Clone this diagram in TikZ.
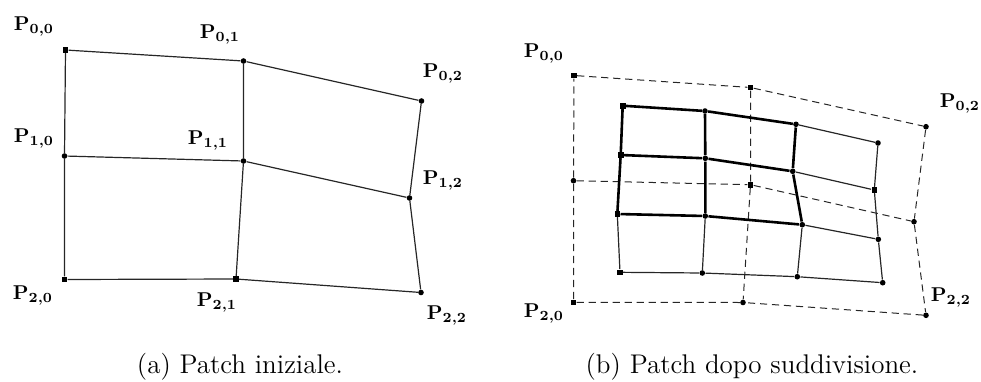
\documentclass[tikz,border=0pt]{standalone}
\usepackage{amsmath,amssymb}
\usepackage{tikz}
\usetikzlibrary{positioning}
\begin{document}
\begin{tikzpicture}[x=0.5pt,y=-0.5pt,
  pt/.style={circle,fill=black,inner sep=0pt,minimum size=2.8pt},
  sq/.style={rectangle,fill=black,inner sep=0pt,minimum size=2.8pt},
  lbl/.style={inner sep=0pt,font=\fontsize{10}{12}\selectfont\boldmath},
  capt/.style={inner sep=0pt,font=\fontsize{13.5}{16}\selectfont},
  thin line/.style={line width=0.6pt,black!85},
  dash line/.style={line width=0.5pt,black!85,dash pattern=on 3.6pt off 2.4pt},
  thick line/.style={line width=1.3pt,black}]
\useasboundingbox (0,0) rectangle (981,381);
% control net, initial patch
\node[sq] (a00) at (65.5,50) {};
\node[pt] (a01) at (243.5,61) {};
\node[pt] (a02) at (421.5,101) {};
\node[pt] (a10) at (64.5,156) {};
\node[pt] (a11) at (243.5,161) {};
\node[pt] (a12) at (409.5,198) {};
\node[sq] (a20) at (64.5,279.5) {};
\node[sq] (a21) at (236,279) {};
\node[pt] (a22) at (421,292.5) {};
\draw[thin line] (a00) -- (a01) -- (a02) -- (a12) -- (a22) -- (a21) -- (a20) -- (a10) -- (a00);
\draw[thin line] (a01) -- (a11) -- (a21);
\draw[thin line] (a10) -- (a11) -- (a12);
\node[lbl] (la00) at (34,26) {$\mathbf{P}_{0,0}$};
\node[lbl] (la01) at (220,34) {$\mathbf{P}_{0,1}$};
\node[lbl] (la02) at (443,73) {$\mathbf{P}_{0,2}$};
\node[lbl] (la10) at (34,138) {$\mathbf{P}_{1,0}$};
\node[lbl] (la11) at (208,140) {$\mathbf{P}_{1,1}$};
\node[lbl] (la12) at (443,180) {$\mathbf{P}_{1,2}$};
\node[lbl] (la20) at (33,295) {$\mathbf{P}_{2,0}$};
\node[lbl] (la21) at (217,302) {$\mathbf{P}_{2,1}$};
\node[lbl] (la22) at (447,315) {$\mathbf{P}_{2,2}$};
\node[capt] (capa) at (240,367) {(a) Patch iniziale.};
% control net, subdivided patch
\node[sq] (b00) at (574,75.5) {};
\node[sq] (b01) at (750.5,87.5) {};
\node[pt] (b02) at (926,126.7) {};
\node[pt] (b10) at (573.5,180.7) {};
\node[sq] (b11) at (750.5,184.7) {};
\node[pt] (b12) at (914,221.7) {};
\node[sq] (b20) at (573.5,302.3) {};
\node[pt] (b21) at (743,302.5) {};
\node[pt] (b22) at (926,315.3) {};
\draw[dash line] (b00) -- (b01) -- (b02) -- (b12) -- (b22) -- (b21) -- (b20) -- (b10) -- (b00);
\draw[dash line] (b01) -- (b11) -- (b21);
\draw[dash line] (b10) -- (b11) -- (b12);
% refined grid
\node[sq] (c00) at (622.7,105.7) {};
\node[pt] (c01) at (705,111) {};
\node[pt] (c02) at (796,124.3) {};
\node[pt] (c03) at (878,143) {};
\node[sq] (c10) at (620.7,155) {};
\node[pt] (c11) at (705.3,158.3) {};
\node[pt] (c12) at (792.7,171.3) {};
\node[sq] (c13) at (874.3,190) {};
\node[sq] (c20) at (617.3,214) {};
\node[pt] (c21) at (705.3,216) {};
\node[pt] (c22) at (802.3,224.7) {};
\node[pt] (c23) at (878.3,239.3) {};
\node[sq] (c30) at (620,272.3) {};
\node[pt] (c31) at (702.3,273) {};
\node[pt] (c32) at (797.3,276.7) {};
\node[pt] (c33) at (882.7,282.7) {};
\draw[thin line] (c02) -- (c03) -- (c13) -- (c23) -- (c33) -- (c32) -- (c31) -- (c30) -- (c20);
\draw[thin line] (c12) -- (c13);
\draw[thin line] (c22) -- (c23);
\draw[thin line] (c21) -- (c31);
\draw[thin line] (c22) -- (c32);
\draw[thick line] (c00) -- (c01) -- (c02) -- (c12) -- (c22) -- (c21) -- (c20) -- (c10) -- (c00);
\draw[thick line] (c01) -- (c11) -- (c21);
\draw[thick line] (c10) -- (c11) -- (c12);
\node[lbl] (lb00) at (544,53) {$\mathbf{P}_{0,0}$};
\node[lbl] (lb02) at (960,103) {$\mathbf{P}_{0,2}$};
\node[lbl] (lb20) at (544,313) {$\mathbf{P}_{2,0}$};
\node[lbl] (lb22) at (951,297) {$\mathbf{P}_{2,2}$};
\node[capt] (capb) at (752,367) {(b) Patch dopo suddivisione.};
\end{tikzpicture}
\end{document}
